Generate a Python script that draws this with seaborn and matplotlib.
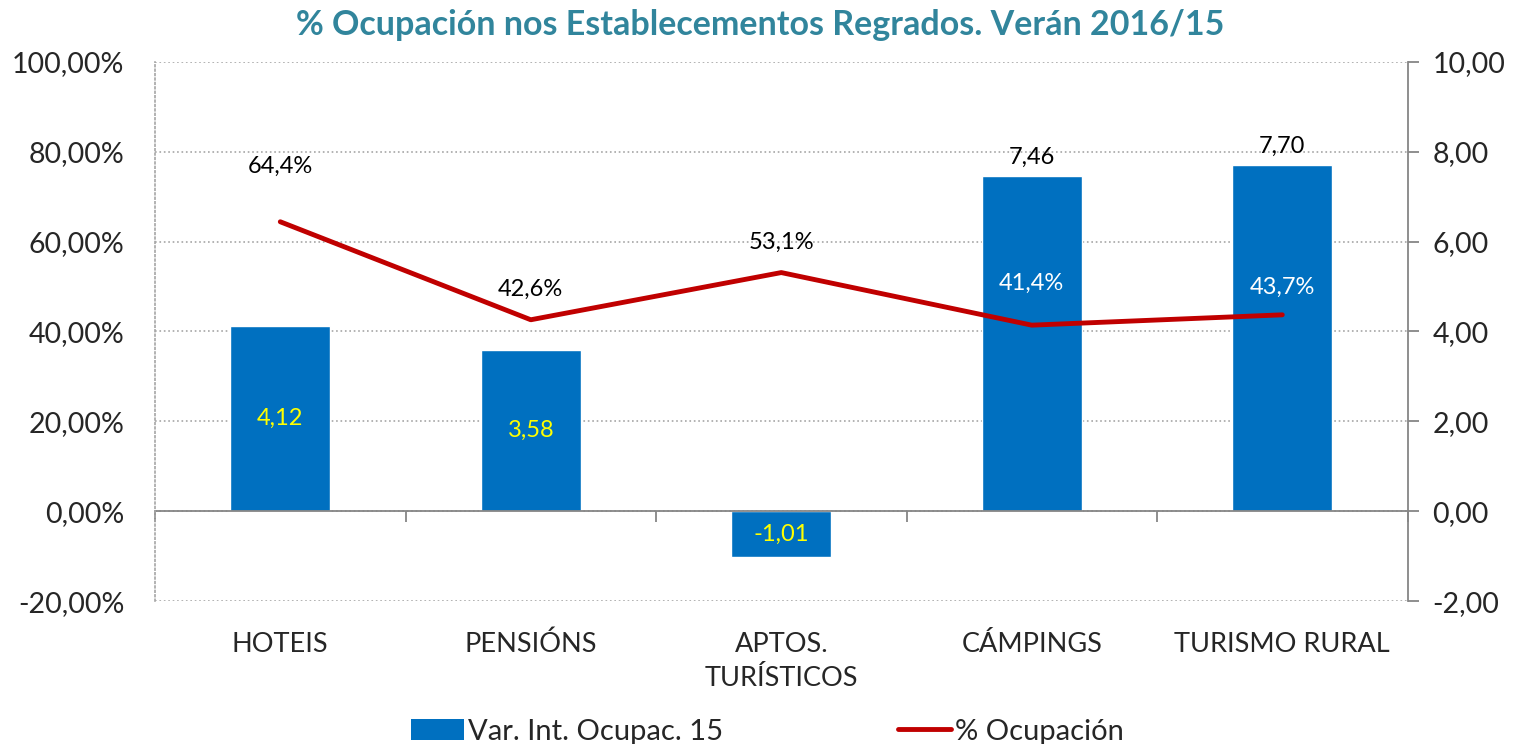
import numpy as np
import matplotlib
matplotlib.use('Agg')
import matplotlib.pyplot as plt
import seaborn as sns
from matplotlib.patches import Patch
from matplotlib.lines import Line2D

# Datos
categorias = ['HOTEIS', 'PENSIÓNS', 'APTOS.\nTURÍSTICOS', 'CÁMPINGS', 'TURISMO RURAL']
var_ocupac = [4.12, 3.58, -1.01, 7.46, 7.70]
ocupacion = [64.4, 42.6, 53.1, 41.4, 43.7]

# Estilo
azul = '#0070C0'
vermello = '#C00000'
gris = '#868686'
titulo_cor = '#31859C'

sns.set_theme(style='white')
plt.rcParams['font.family'] = ['Lato', 'DejaVu Sans']

fig = plt.figure(figsize=(15.2, 7.44), dpi=100)
ax = fig.add_axes([0.102, 0.192, 0.824, 0.725])
ax2 = ax.twinx()

# Barras (eixo dereito)
sns.barplot(x=categorias, y=var_ocupac, ax=ax2, color=azul, width=0.4,
            saturation=1, zorder=2)
ax2.set_ylim(-2, 10)
ax2.set_yticks(np.arange(-2, 10.1, 2))
ax2.set_yticklabels([f'{v:.2f}'.replace('.', ',') for v in np.arange(-2, 10.1, 2)],
                    fontsize=20.5)
ax2.set_axisbelow(True)
ax2.grid(axis='y', color='#A6A6A6', linestyle=':', linewidth=1.2)
ax2.grid(axis='x', visible=False)
ax2.tick_params(axis='y', direction='out', length=8, color=gris, width=1.3, pad=10, right=True)
for s in ['top', 'bottom', 'left']:
    ax2.spines[s].set_visible(False)
ax2.spines['right'].set_color(gris)
ax2.spines['right'].set_linewidth(1.3)

# Etiquetas das barras
cont = ax2.containers[0]
lab_dentro = [f'{v:.2f}'.replace('.', ',') if i < 3 else '' for i, v in enumerate(var_ocupac)]
lab_fora = [f'{v:.2f}'.replace('.', ',') if i >= 3 else '' for i, v in enumerate(var_ocupac)]
ax2.bar_label(cont, labels=lab_dentro, label_type='center', color='#FFFF00', fontsize=17)
ax2.bar_label(cont, labels=lab_fora, label_type='edge', color='black', fontsize=17, padding=6)

# Liña (eixo esquerdo)
x = np.arange(len(categorias))
sns.lineplot(x=x, y=ocupacion, ax=ax, color=vermello, linewidth=3.5,
             solid_capstyle='round')
ax.set_ylim(-20, 100)
ax.set_yticks(np.arange(-20, 101, 20))
ax.set_yticklabels([f'{v:.2f}%'.replace('.', ',') for v in np.arange(-20, 101, 20)],
                   fontsize=20.5)
ax.tick_params(axis='y', length=0, pad=22)
ax.set_zorder(ax2.get_zorder() + 1)
ax.patch.set_visible(False)
for s in ['top', 'right', 'bottom']:
    ax.spines[s].set_visible(False)
ax.spines['left'].set_linestyle(':')
ax.spines['left'].set_color('#A6A6A6')
ax.spines['left'].set_linewidth(1.2)

desprazamentos = [40, 22, 22, 30, 20]
cores_lab = ['black', 'black', 'black', 'white', 'white']
for xi, v, d, c in zip(x, ocupacion, desprazamentos, cores_lab):
    ax.annotate(f'{v:.1f}%'.replace('.', ','), (xi, v), xytext=(0, d),
                textcoords='offset points', ha='center', va='center',
                fontsize=17, color=c)

# Eixo X
ax.set_xlim(-0.5, len(categorias) - 0.5)
ax.set_xticks(x)
ax.set_xticklabels(categorias, fontsize=19.5, linespacing=1.45, va='top')
ax.tick_params(axis='x', length=0, pad=22)
ax.set_xlabel('')
ax2.set_xlabel('')

# Liña do cero con marcas entre categorías
loc0 = (0 - ax.get_ylim()[0]) / (ax.get_ylim()[1] - ax.get_ylim()[0])
sec = ax.secondary_xaxis(loc0)
sec.set_xticks(np.arange(-0.5, len(categorias), 1))
sec.tick_params(axis='x', direction='out', length=8, color=gris, width=1.3, labelbottom=False)
sec.spines['bottom'].set_color(gris)
sec.spines['bottom'].set_linewidth(1.3)

# Título
fig.suptitle('% Ocupación nos Establecementos Regrados. Verán 2016/15',
             x=0.5, y=0.988, fontsize=24.5, fontweight='bold', color=titulo_cor)

# Lenda
handles = [Patch(facecolor=azul, edgecolor='none'),
           Line2D([0], [0], color=vermello, linewidth=3.5)]
fig.legend(handles, ['Var. Int. Ocupac. 15', '% Ocupación'], loc='lower center',
           bbox_to_anchor=(0.505, -0.036), ncol=2, frameon=False, fontsize=21,
           columnspacing=6.0, handlelength=1.8, handletextpad=0.15)

fig.savefig('out.png', dpi=100)
